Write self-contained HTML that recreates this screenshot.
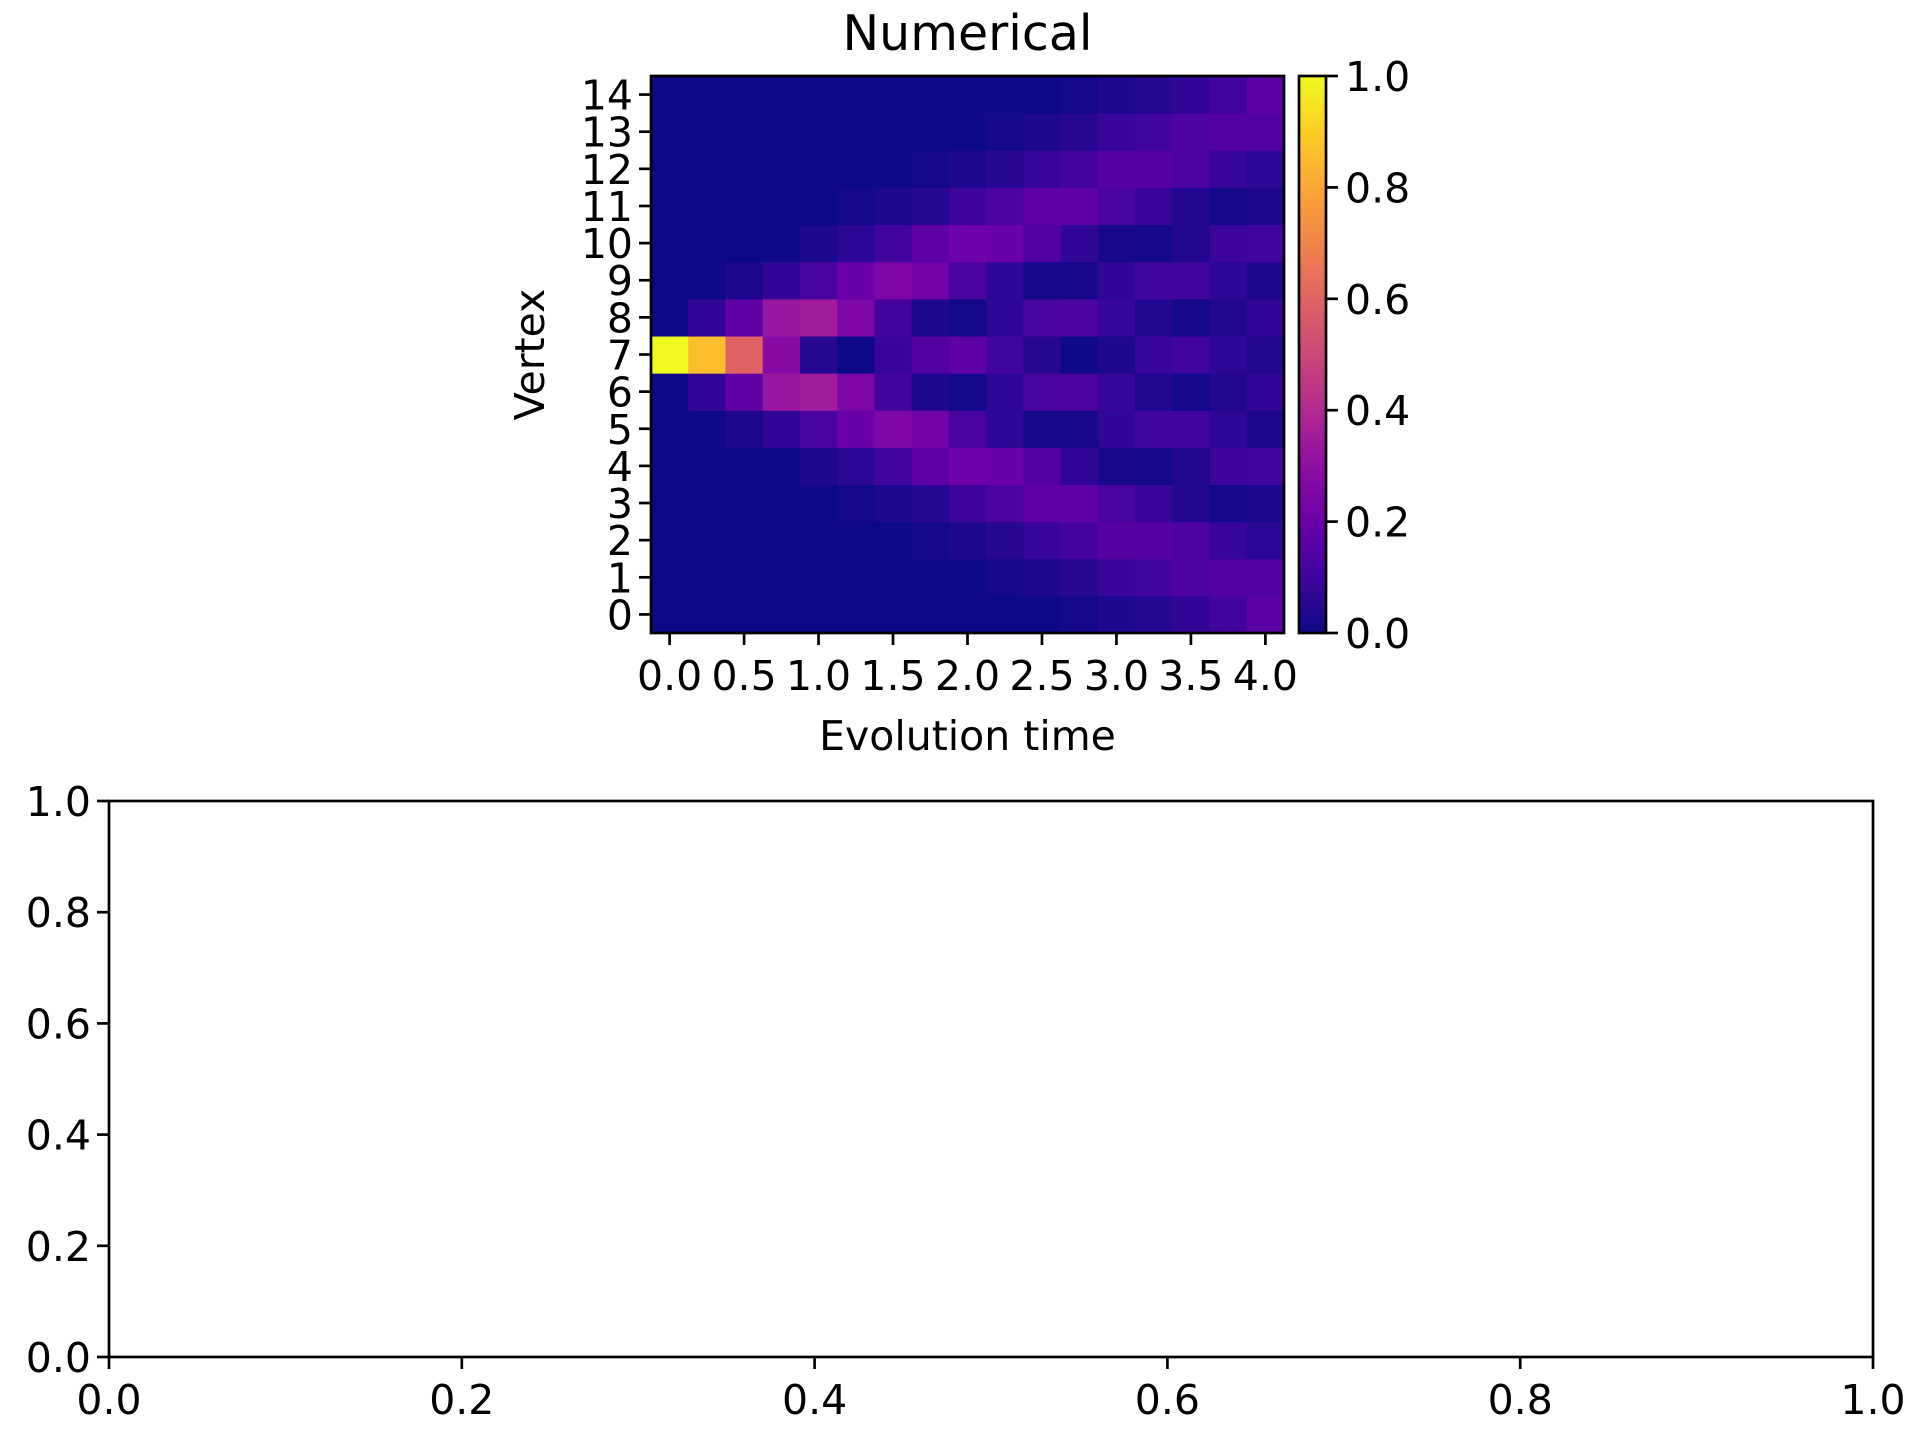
<!DOCTYPE html>
<html><head><meta charset="utf-8"><style>
html,body{margin:0;padding:0;background:#fff}
svg text{font-family:"DejaVu Sans","Liberation Sans",sans-serif;fill:#000}
</style></head><body>
<svg id="fig" width="1920" height="1440" viewBox="0 0 1920 1440" xmlns="http://www.w3.org/2000/svg">
<rect width="1920" height="1440" fill="#fff"/>
<g id="hm"></g>
<g id="hmaxes"></g>
<g id="cbar"></g>
<g id="bottom"></g>
</svg>
<script>
const timeLabels=["0.0","0.5","1.0","1.5","2.0","2.5","3.0","3.5","4.0"];
const vertexLabels=["0","1","2","3","4","5","6","7","8","9","10","11","12","13","14"];
const cbarTicks=["0.0","0.2","0.4","0.6","0.8","1.0"];
const bottomTicks=["0.0","0.2","0.4","0.6","0.8","1.0"];
// rows from vertex 0 upward
const row0=[0,0,0,0,0,0,0,0,0,0,0,0.01,0.03,0.05,0.07,0.10,0.16];
const row1=[0,0,0,0,0,0,0,0,0,0.01,0.03,0.05,0.08,0.10,0.13,0.14,0.14];
const row2=[0,0,0,0,0,0,0,0.01,0.03,0.05,0.08,0.11,0.15,0.15,0.13,0.08,0.06];
const row3=[0,0,0,0,0,0.01,0.03,0.05,0.09,0.13,0.17,0.17,0.12,0.08,0.04,0.01,0.03];
const row4=[0,0,0,0,0.03,0.06,0.10,0.17,0.21,0.20,0.14,0.07,0.02,0.01,0.04,0.09,0.10];
const row5=[0,0,0.03,0.07,0.12,0.20,0.25,0.22,0.12,0.06,0.01,0.02,0.07,0.10,0.10,0.06,0.03];
const row6=[0,0.07,0.18,0.33,0.35,0.25,0.11,0.03,0.01,0.06,0.12,0.13,0.08,0.04,0.01,0.04,0.07];
const row7=[1.0,0.86,0.59,0.28,0.05,0.0,0.08,0.14,0.17,0.10,0.05,0.0,0.03,0.08,0.10,0.06,0.04];
const row8=[0,0.07,0.18,0.33,0.35,0.25,0.11,0.03,0.01,0.06,0.12,0.13,0.08,0.04,0.01,0.04,0.07];
const row9=[0,0,0.03,0.07,0.12,0.20,0.25,0.22,0.12,0.06,0.01,0.02,0.07,0.10,0.10,0.06,0.03];
const row10=[0,0,0,0,0.03,0.06,0.10,0.17,0.21,0.20,0.14,0.07,0.02,0.01,0.04,0.09,0.10];
const row11=[0,0,0,0,0,0.01,0.03,0.05,0.09,0.13,0.17,0.17,0.12,0.08,0.04,0.01,0.03];
const row12=[0,0,0,0,0,0,0,0.01,0.03,0.05,0.08,0.11,0.15,0.15,0.13,0.08,0.06];
const row13=[0,0,0,0,0,0,0,0,0,0.01,0.03,0.05,0.08,0.10,0.13,0.14,0.14];
const row14=[0,0,0,0,0,0,0,0,0,0,0,0.01,0.03,0.05,0.07,0.10,0.16];
const grid=[row0,row1,row2,row3,row4,row5,row6,row7,row8,row9,row10,row11,row12,row13,row14];

const NS="http://www.w3.org/2000/svg";
function mk(tag,attrs,parent){const e=document.createElementNS(NS,tag);for(const k in attrs)e.setAttribute(k,attrs[k]);parent.appendChild(e);return e;}
const stops=["#0d0887","#41049d","#6a00a8","#8f0da4","#b12a90","#cc4778","#e16462","#f2844b","#fca636","#fcce25","#f0f921"];
function hex(h){return [1,3,5].map(i=>parseInt(h.substr(i,2),16));}
function plasma(v){v=Math.max(0,Math.min(1,v));const p=v*10,i=Math.min(9,Math.floor(p)),f=p-i;const a=hex(stops[i]),b=hex(stops[i+1]);return "rgb("+a.map((c,k)=>Math.round(c+(b[k]-c)*f)).join(",")+")";}

const FS=41;
const L=651,R=1284,T=76,B=633,nC=17,nR=15,cw=(R-L)/nC,rh=(B-T)/nR;
const xs=i=>L+(i+0.5)*cw, ys=j=>B-(j+0.5)*rh;
const hm=document.getElementById('hm');
for(let j=0;j<nR;j++)for(let i=0;i<nC;i++){
 const r=mk('rect',{x:xs(i)-cw/2,y:ys(j)-rh/2,width:cw+0.6,height:rh+0.6,fill:plasma(grid[j][i])},hm);
 
 
}
const ax=document.getElementById('hmaxes');
mk('rect',{x:L,y:T,width:R-L,height:B-T,fill:'none',stroke:'#000','stroke-width':2.7},ax);
timeLabels.forEach((t,k)=>{const x=xs(k*2);mk('line',{x1:x,x2:x,y1:B,y2:B+12,stroke:'#000','stroke-width':2.7},ax);
 const tx=mk('text',{x:x,y:B+57,'font-size':FS,'text-anchor':'middle'},ax);tx.textContent=t;
 
 });
vertexLabels.forEach((t,j)=>{const y=ys(j);mk('line',{x1:L-12,x2:L,y1:y,y2:y,stroke:'#000','stroke-width':2.7},ax);
 const tx=mk('text',{x:L-18,y:y+15,'font-size':FS,'text-anchor':'end'},ax);tx.textContent=t;
 
 });
let e=mk('text',{x:(L+R)/2,y:50,'font-size':49,'text-anchor':'middle'},ax);e.textContent="Numerical";


e=mk('text',{x:(L+R)/2,y:750,'font-size':FS,'text-anchor':'middle'},ax);e.textContent="Evolution time";


e=mk('text',{x:0,y:0,'font-size':FS,'text-anchor':'middle',transform:`translate(${544},${(T+B)/2}) rotate(-90)`},ax);e.textContent="Vertex";



// colorbar
const cb=document.getElementById('cbar');const CL=1299,CR=1326;
const defs=mk('defs',{},cb);const lg=mk('linearGradient',{id:'pg',x1:0,y1:1,x2:0,y2:0},defs);
stops.forEach((s,i)=>mk('stop',{offset:i/10,'stop-color':s},lg));
mk('rect',{x:CL,y:T,width:CR-CL,height:B-T,fill:'url(#pg)',stroke:'#000','stroke-width':2.7},cb);
cbarTicks.forEach(t=>{const y=B-(+t)*(B-T);mk('line',{x1:CR,x2:CR+12,y1:y,y2:y,stroke:'#000','stroke-width':2.7},cb);
 const tx=mk('text',{x:CR+19,y:y+15,'font-size':FS},cb);tx.textContent=t;
 
 });

// bottom empty axes
const bt=document.getElementById('bottom');const BL=109,BR=1873,BT=801,BB=1357;
mk('rect',{x:BL,y:BT,width:BR-BL,height:BB-BT,fill:'none',stroke:'#000','stroke-width':2.7},bt);
bottomTicks.forEach(t=>{const v=+t;const x=BL+v*(BR-BL),y=BB-v*(BB-BT);
 mk('line',{x1:x,x2:x,y1:BB,y2:BB+12,stroke:'#000','stroke-width':2.7},bt);
 let a=mk('text',{x:x,y:BB+57,'font-size':FS,'text-anchor':'middle'},bt);a.textContent=t;
 
 
 mk('line',{x1:BL-12,x2:BL,y1:y,y2:y,stroke:'#000','stroke-width':2.7},bt);
 a=mk('text',{x:BL-18,y:y+15,'font-size':FS,'text-anchor':'end'},bt);a.textContent=t;
 
 });
</script>
</body></html>
